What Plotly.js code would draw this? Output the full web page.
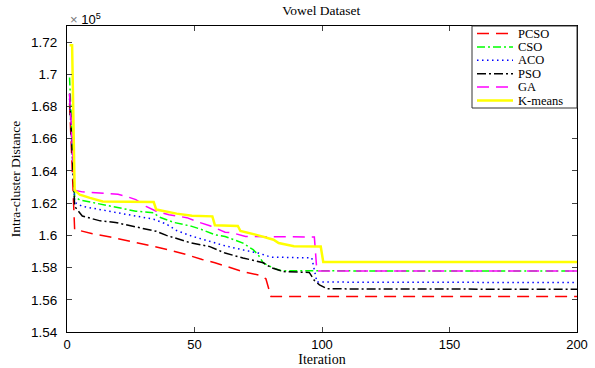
<!DOCTYPE html>
<html>
<head>
<meta charset="utf-8">
<script src="https://cdn.plot.ly/plotly-3.0.1.min.js"></script>
<style>html,body{margin:0;padding:0;background:#fff;}#chart{width:595px;height:368px;}</style>
</head>
<body>
<div id="chart"></div>
<script>
// Values in units of 1e5
const seriesNames = ["PCSO", "CSO", "ACO", "PSO", "GA", "K-means"];

const pcsoIter = [1, 3, 5, 10, 17, 23, 29, 35, 40, 47, 53, 58, 64, 69, 76, 78, 80, 200];
const pcsoVals = [1.682, 1.6035, 1.603, 1.601, 1.599, 1.597, 1.595, 1.593, 1.591, 1.588, 1.585, 1.583, 1.580, 1.5775, 1.575, 1.573, 1.562, 1.562];

const csoIter = [1, 3, 5, 14, 21, 27, 34, 36, 42, 49, 53, 58, 62, 69, 73, 75, 77, 81, 84, 200];
const csoVals = [1.698, 1.624, 1.622, 1.619, 1.617, 1.615, 1.614, 1.6115, 1.608, 1.6056, 1.6035, 1.6004, 1.5993, 1.5952, 1.5911, 1.5879, 1.5828, 1.5797, 1.578, 1.5778];

const acoIter = [1, 3, 6, 13, 19, 27, 34, 39, 43, 49, 56, 62, 69, 75, 80, 96, 98, 200];
const acoVals = [1.685, 1.6205, 1.618, 1.616, 1.614, 1.612, 1.610, 1.607, 1.603, 1.5995, 1.5962, 1.5935, 1.591, 1.589, 1.5865, 1.586, 1.571, 1.5707];

const psoIter = [1, 3, 6, 13, 19, 23, 29, 35, 39, 43, 48, 56, 62, 69, 75, 77, 80, 85, 95, 97, 99, 102, 200];
const psoVals = [1.688, 1.618, 1.612, 1.609, 1.608, 1.6067, 1.6046, 1.6025, 1.600, 1.598, 1.5956, 1.593, 1.589, 1.586, 1.584, 1.583, 1.580, 1.5775, 1.577, 1.572, 1.5693, 1.5668, 1.5665];

const gaIter = [1, 3, 6, 14, 20, 23, 27, 31, 35, 40, 47, 52, 56, 62, 65, 70, 97, 98, 200];
const gaVals = [1.688, 1.628, 1.627, 1.6264, 1.6255, 1.6243, 1.6222, 1.618, 1.615, 1.6128, 1.611, 1.608, 1.606, 1.602, 1.6015, 1.5993, 1.599, 1.5778, 1.5778];

const kmIter = [1, 2, 3, 5, 9, 14, 34, 35, 43, 49, 57, 58, 67, 68, 75, 81, 83, 89, 99.5, 100.5, 200];
const kmVals = [1.718, 1.718, 1.628, 1.6253, 1.6233, 1.621, 1.6207, 1.616, 1.6135, 1.6122, 1.6118, 1.6063, 1.6058, 1.6027, 1.600, 1.5973, 1.5952, 1.5933, 1.5931, 1.5834, 1.5834];

const yTickVals = [1.54, 1.56, 1.58, 1.6, 1.62, 1.64, 1.66, 1.68, 1.7, 1.72];
const yTickText = ["1.54", "1.56", "1.58", "1.6", "1.62", "1.64", "1.66", "1.68", "1.7", "1.72"];
const xTickVals = [0, 50, 100, 150, 200];

const iters = [pcsoIter, csoIter, acoIter, psoIter, gaIter, kmIter];
const vals = [pcsoVals, csoVals, acoVals, psoVals, gaVals, kmVals];
const colors = ["#ff0000", "#00ff00", "#0000ff", "#000000", "#ff00ff", "#ffff00"];
const dashes = ["12px,7px", "8px,3px,2px,3px", "1.5px,3.5px", "9px,3px,2px,3px", "12px,7px", "solid"];
const widths = [1.5, 1.5, 1.5, 1.5, 1.5, 2.5];

const traces = seriesNames.map((n, i) => ({
  x: iters[i], y: vals[i], name: n, type: "scatter", mode: "lines",
  line: {color: colors[i], dash: dashes[i], width: widths[i]}, showlegend: false
}));

const serif = "Liberation Serif, Times New Roman, serif";
const sans = "Liberation Sans, Arial, sans-serif";

// plot-area pixel geometry helpers (for the legend box only)
const L = 67, R = 577, T = 26, B = 332;
const px2x = p => (p - L) / (R - L);
const py2y = p => (B - p) / (B - T);

const entryY0 = 33.5, entryStep = 13.4;
const shapes = [{type: "rect", xref: "paper", yref: "paper", x0: px2x(472), x1: px2x(577),
                 y0: py2y(entryY0 + 5 * entryStep + 7.5), y1: py2y(26),
                 line: {color: "#333", width: 1}, fillcolor: "#fff", layer: "above"}];
const annotations = [{xref: "paper", yref: "paper", x: px2x(68), y: py2y(19), xanchor: "left", yanchor: "middle", showarrow: false,
                      text: "<span style='color:#777'>×</span> 10<sup>5</sup>", font: {family: sans, size: 13, color: "#000"}}];
seriesNames.forEach((n, i) => {
  const yy = py2y(entryY0 + i * entryStep);
  shapes.push({type: "line", xref: "paper", yref: "paper", x0: px2x(477), x1: px2x(513), y0: yy, y1: yy,
               line: {color: colors[i], dash: dashes[i], width: widths[i]}, layer: "above"});
  annotations.push({xref: "paper", yref: "paper", x: px2x(517), y: yy, xanchor: "left", yanchor: "middle", showarrow: false,
                    borderpad: 0, text: n, font: {family: serif, size: 12.5, color: "#000"}});
});

const layout = {
  width: 595, height: 368,
  margin: {l: L, r: 595 - R, t: T, b: 368 - B},
  paper_bgcolor: "#fff", plot_bgcolor: "#fff",
  title: {text: "Vowel Dataset", font: {family: serif, size: 13.5, color: "#000"}, x: 0.54, xanchor: "center", y: 0.985, yanchor: "top"},
  showlegend: false,
  xaxis: {range: [0, 200], tickvals: xTickVals, ticks: "inside", ticklen: 5, showline: true, mirror: "ticks",
          linecolor: "#000", linewidth: 1, showgrid: false, zeroline: false, ticklabelstandoff: 0,
          tickfont: {family: sans, size: 13, color: "#000"},
          title: {text: "Iteration", font: {family: serif, size: 14, color: "#000"}, standoff: 3}},
  yaxis: {range: [1.54, 1.73], tickvals: yTickVals, ticktext: yTickText, ticks: "inside", ticklen: 5, showline: true, mirror: "ticks",
          linecolor: "#000", linewidth: 1, showgrid: false, zeroline: false, ticklabelstandoff: 6,
          tickfont: {family: sans, size: 13.5, color: "#000"},
          title: {text: "Intra-cluster Distance", font: {family: serif, size: 13.5, color: "#000"}, standoff: 7}},
  shapes: shapes,
  annotations: annotations
};

Plotly.newPlot("chart", traces, layout, {displayModeBar: false, staticPlot: true});
</script>
</body>
</html>
